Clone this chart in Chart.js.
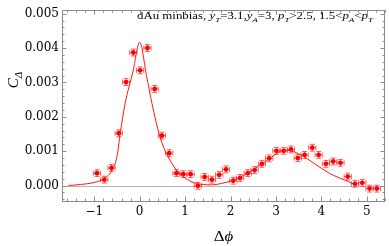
<!DOCTYPE html>
<html>
<head>
<meta charset="utf-8">
<script src="https://cdn.jsdelivr.net/npm/chart.js@4/dist/chart.umd.min.js"></script>
<style>
  html, body { margin: 0; padding: 0; background: #fff; }
</style>
</head>
<body>
<canvas id="myChart" width="389" height="246"></canvas>
<script>
// measured points (delta phi, C_delta) with errors
const dphi = [-0.94, -0.78, -0.62, -0.46, -0.30, -0.14, 0.01, 0.17, 0.33, 0.49,
  0.65, 0.81, 0.96, 1.12, 1.28, 1.43, 1.59, 1.75, 1.90, 2.06,
  2.21, 2.38, 2.53, 2.69, 2.85, 3.01, 3.17, 3.33, 3.48, 3.63,
  3.80, 3.94, 4.10, 4.26, 4.42, 4.58, 4.74, 4.90, 5.06, 5.22];
const cDelta = [0.00036, 0.00017, 0.00051, 0.00152, 0.00301, 0.00387, 0.00335, 0.00400, 0.00281, 0.00145,
  0.00094, 0.00036, 0.00033, 0.00033, -0.00001, 0.00025, 0.00017, 0.00031, 0.00047, 0.00014,
  0.00022, 0.00036, 0.00045, 0.00063, 0.00079, 0.00101, 0.00101, 0.00105, 0.00080, 0.00089,
  0.00110, 0.00089, 0.00063, 0.00070, 0.00066, 0.00026, 0.00005, 0.00008, -0.00009, -0.00009];
const cErr = [0.0001, 0.0001, 0.0001, 0.0001, 0.0001, 0.0001, 0.0001, 0.0001, 0.0001, 0.0001,
  0.0001, 0.0001, 0.0001, 0.0001, 0.0001, 0.0001, 0.0001, 0.0001, 0.0001, 0.0001,
  0.0001, 0.0001, 0.0001, 0.0001, 0.0001, 0.0001, 0.0001, 0.0001, 0.0001, 0.0001,
  0.0001, 0.0001, 0.0001, 0.0001, 0.0001, 0.0001, 0.0001, 0.0001, 0.0001, 0.0001];
const phiErr = [0.08, 0.08, 0.08, 0.08, 0.08, 0.08, 0.08, 0.08, 0.08, 0.08,
  0.08, 0.08, 0.08, 0.08, 0.08, 0.08, 0.08, 0.08, 0.08, 0.08,
  0.08, 0.08, 0.08, 0.08, 0.08, 0.08, 0.08, 0.08, 0.08, 0.08,
  0.08, 0.08, 0.08, 0.08, 0.08, 0.08, 0.08, 0.08, 0.08, 0.08];

// fit curve
const fitPhi = [-1.57, -1.3, -1.0, -0.8, -0.62, -0.5, -0.43, -0.32, -0.15, 0,
  0.15, 0.27, 0.45, 0.6, 0.8, 1.0, 1.2, 1.4, 1.6, 1.8,
  2.0, 2.2, 2.4, 2.6, 2.8, 3.0, 3.2, 3.4, 3.6, 3.8,
  4.0, 4.2, 4.4, 4.6, 4.71];
const fitC = [0.0, 0.00003, 0.00009, 0.00019, 0.00042, 0.00084, 0.0015, 0.00239, 0.0033, 0.00417,
  0.0032, 0.00239, 0.0014, 0.0009, 0.00047, 0.00022, 0.00008, 0.00003, 0.00002, 0.00006,
  0.00013, 0.00024, 0.00038, 0.00055, 0.00073, 0.00092, 0.00103, 0.00098, 0.00085, 0.00068,
  0.0005, 0.00034, 0.00022, 0.00011, 0.00004];

const xTicks = [-1, 0, 1, 2, 3, 4, 5];
const xTickLabels = ['\u22121', '0', '1', '2', '3', '4', '5'];
const yTicks = [0, 0.001, 0.002, 0.003, 0.004, 0.005];
const yTickLabels = ['0.000', '0.001', '0.002', '0.003', '0.004', '0.005'];

const titleParts = [['dAu minbias, ', 'n'], ['y', 'i'], ['T', 's'], ['=3.1,', 'n'], ['y', 'i'], ['A', 's'],
  ['=3, ', 'n'], ['p', 'i'], ['T', 's'], ['>2.5, 1.5<', 'n'], ['p', 'i'], ['A', 's'], ['<', 'n'], ['p', 'i'], ['T', 's']];

const ctx = document.getElementById('myChart');

function partFont(style, size) {
  if (style === 's') return 'italic ' + Math.round(size * 0.7) + 'px "Liberation Serif"';
  if (style === 'i') return 'italic ' + size + 'px "Liberation Serif"';
  return size + 'px "Liberation Serif"';
}

// draw text with italic / subscript pieces, starting at x (left) on baseline y
function richWidth(c, parts, size) {
  let w = 0;
  parts.forEach(p => { c.font = partFont(p[1], size); w += c.measureText(p[0]).width; });
  return w;
}
function drawRich(c, parts, x, y, size) {
  let cx = x;
  parts.forEach(p => {
    c.font = partFont(p[1], size);
    c.fillText(p[0], cx, p[1] === 's' ? y + size * 0.25 : y);
    cx += c.measureText(p[0]).width;
  });
}

const decor = {
  id: 'decor',
  beforeDatasetsDraw(chart) {
    const c = chart.ctx, xs = chart.scales.x, ys = chart.scales.y, a = chart.chartArea;
    c.save();
    // zero line
    c.strokeStyle = '#b4b4b4';
    c.lineWidth = 1;
    c.beginPath();
    const y0 = Math.round(ys.getPixelForValue(0)) + 0.5;
    c.moveTo(a.left, y0); c.lineTo(a.right, y0);
    c.stroke();
    // error bars
    c.strokeStyle = 'rgba(255,40,40,0.75)';
    for (let i = 0; i < dphi.length; i++) {
      const px = xs.getPixelForValue(dphi[i]), py = ys.getPixelForValue(cDelta[i]);
      const x1 = xs.getPixelForValue(dphi[i] - phiErr[i]), x2 = xs.getPixelForValue(dphi[i] + phiErr[i]);
      const y1 = ys.getPixelForValue(cDelta[i] - cErr[i]), y2 = ys.getPixelForValue(cDelta[i] + cErr[i]);
      c.beginPath();
      c.moveTo(x1, py); c.lineTo(x2, py);
      c.moveTo(px, y1); c.lineTo(px, y2);
      c.moveTo(x1, py - 2.5); c.lineTo(x1, py + 2.5);
      c.moveTo(x2, py - 2.5); c.lineTo(x2, py + 2.5);
      c.moveTo(px - 2.5, y1); c.lineTo(px + 2.5, y1);
      c.moveTo(px - 2.5, y2); c.lineTo(px + 2.5, y2);
      c.stroke();
    }
    c.restore();
  },
  afterDraw(chart) {
    const c = chart.ctx, xs = chart.scales.x, ys = chart.scales.y, a = chart.chartArea;
    c.save();
    c.strokeStyle = '#8c8c8c';
    c.lineWidth = 1;
    c.strokeRect(Math.round(a.left) + 0.5, Math.round(a.top) + 0.5,
      Math.round(a.right - a.left) - 1, Math.round(a.bottom - a.top));
    c.beginPath();
    // x ticks, bottom and top, pointing inward
    for (let k = -16; k <= 54; k += 2) {
      const v = k / 10, px = Math.round(xs.getPixelForValue(v)) + 0.5;
      const len = (k % 10 === 0) ? 4.5 : 2.5;
      c.moveTo(px, a.bottom); c.lineTo(px, a.bottom - len);
      c.moveTo(px, a.top); c.lineTo(px, a.top + len);
    }
    // y ticks, left and right
    for (let k = -4; k <= 50; k += 2) {
      const v = k / 10000, py = Math.round(ys.getPixelForValue(v)) + 0.5;
      const len = (k % 10 === 0) ? 4.5 : 2.5;
      c.moveTo(a.left, py); c.lineTo(a.left + len, py);
      c.moveTo(a.right, py); c.lineTo(a.right - len, py);
    }
    c.stroke();

    c.fillStyle = '#000';
    c.textBaseline = 'alphabetic';
    // legend text inside the frame, stretched like the original
    const tw = richWidth(c, titleParts, 10);
    c.save();
    c.translate(137, 19);
    c.scale(236 / tw, 1);
    drawRich(c, titleParts, 0, 0, 10);
    c.restore();

    // x axis title
    const xt = [['\u0394', 'n'], ['\u03d5', 'i']];
    const xw = richWidth(c, xt, 14) * 1.2;
    c.save();
    c.translate((a.left + a.right) / 2 - xw / 2, 241);
    c.scale(1.2, 1);
    drawRich(c, xt, 0, 0, 14);
    c.restore();

    // y axis title, rotated
    const yt = [['C', 'i'], ['\u0394', 's']];
    const yw = richWidth(c, yt, 15);
    c.save();
    c.translate(18, 80);
    c.rotate(-Math.PI / 2);
    drawRich(c, yt, -yw / 2, 0, 15);
    c.restore();
    c.restore();
  }
};

const myChart = new Chart(ctx, {
  type: 'scatter',
  data: {
    datasets: [{
      label: 'fit',
      data: fitPhi.map((v, i) => ({ x: v, y: fitC[i] })),
      showLine: true,
      borderColor: 'rgb(255,20,20)',
      borderWidth: 1,
      pointRadius: 0,
      cubicInterpolationMode: 'monotone',
      fill: false
    }, {
      label: 'data',
      data: dphi.map((v, i) => ({ x: v, y: cDelta[i] })),
      pointRadius: 2.4,
      pointBackgroundColor: '#ff0000',
      pointBorderColor: '#ff0000',
      pointBorderWidth: 0
    }]
  },
  options: {
    responsive: false,
    animation: false,
    devicePixelRatio: 1,
    layout: { padding: { top: 3, right: 2, left: 0, bottom: 0 } },
    plugins: {
      legend: { display: false },
      tooltip: { enabled: false }
    },
    scales: {
      x: {
        type: 'linear',
        min: -1.71,
        max: 5.4,
        grid: { display: false, drawTicks: false },
        border: { display: false },
        afterBuildTicks: s => { s.ticks = xTicks.map(v => ({ value: v })); },
        afterFit: s => { s.height = 45; },
        ticks: {
          padding: 4,
          color: '#000',
          font: { family: 'DejaVu Serif', size: 12 },
          callback: v => xTickLabels[xTicks.indexOf(v)]
        }
      },
      y: {
        type: 'linear',
        min: -0.00045,
        max: 0.0051,
        grid: { display: false, drawTicks: false },
        border: { display: false },
        afterBuildTicks: s => { s.ticks = yTicks.map(v => ({ value: v })); },
        afterFit: s => { s.width = 62; },
        ticks: {
          padding: 3,
          color: '#000',
          font: { family: 'DejaVu Serif', size: 12 },
          callback: v => yTickLabels[yTicks.indexOf(v)]
        }
      }
    }
  },
  plugins: [decor]
});
</script>
</body>
</html>
